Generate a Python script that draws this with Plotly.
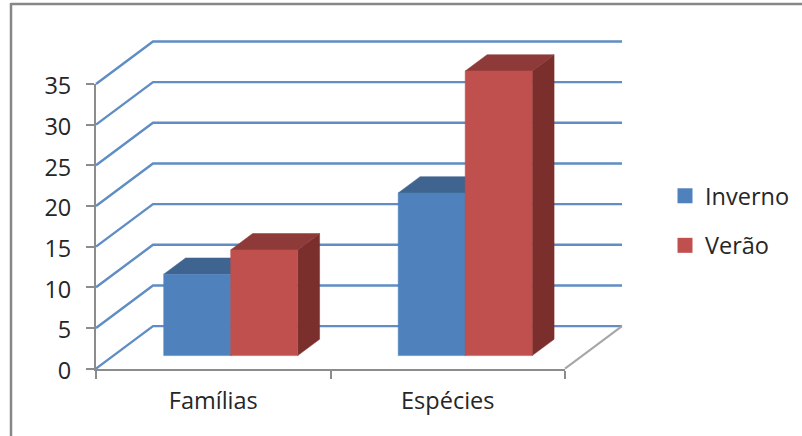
import plotly.graph_objects as go

# Chart data
categories = ["Famílias", "Espécies"]
series_names = ["Inverno", "Verão"]
inverno = [10, 20]
verao = [13, 35]
y_ticks = [0, 5, 10, 15, 20, 25, 30, 35]

W, H = 802, 436
LEFT, RIGHT, TOP, BOTTOM = 96, 565, 84, 368.6
UX = (RIGHT - LEFT) / 2          # pixels per category
UY = (BOTTOM - TOP) / 35         # pixels per value unit

# Oblique projection: depth 0 is the front plane, depth 1 the back wall
SHIFT_X = 57 / UX
SHIFT_Y = 42.5 / UY


def project(cat, depth, value):
    return cat + depth * SHIFT_X, value + depth * SHIFT_Y


def poly(points, color):
    xs, ys = zip(*[project(*p) for p in points + points[:1]])
    return go.Scatter(x=xs, y=ys, xaxis="x2", yaxis="y2", mode="lines", fill="toself",
                      fillcolor=color, line=dict(color=color, width=0.5),
                      showlegend=False, hoverinfo="skip")


def path(points, color, width=2.4):
    xs, ys = zip(*[project(*p) for p in points])
    return go.Scatter(x=xs, y=ys, xaxis="x2", yaxis="y2", mode="lines",
                      line=dict(color=color, width=width),
                      showlegend=False, hoverinfo="skip")


BAR_W = 1 / 3.5                  # gap width of 150 %
BAR_START = (1 - 2 * BAR_W) / 2
D0, D1 = 0.306, 0.69

styles = [
    dict(front="#4F81BD", top="#3E648F", side="#335273"),
    dict(front="#C0504D", top="#8E3A38", side="#7B2F2D"),
]

fig = go.Figure()

# Legend swatches live on the subplot that carries the value and category axes
for name, st in zip(series_names, styles):
    fig.add_trace(go.Scatter(x=[None], y=[None], mode="markers", name=name, legendgroup=name,
                             marker=dict(symbol="square", size=15, color=st["front"])))

# Back wall gridlines, running from the value axis over the side wall
for v in y_ticks:
    fig.add_trace(path([(0, 0, v), (0, 1, v), (2, 1, v)], "#5F8DC4"))

# Floor edge on the right
fig.add_trace(path([(2, 1, 0), (2, 0, 0)], "#A6A6A6", width=2))

# Bars as box faces, drawn back to front within each category
for c in range(len(categories)):
    for s, values in enumerate([inverno, verao]):
        v = values[c]
        x0 = c + BAR_START + s * BAR_W
        x1 = x0 + BAR_W
        st = styles[s]
        fig.add_trace(poly([(x1, D0, 0), (x1, D1, 0), (x1, D1, v), (x1, D0, v)], st["side"]))
        fig.add_trace(poly([(x0, D0, v), (x0, D1, v), (x1, D1, v), (x1, D0, v)], st["top"]))
        fig.add_trace(poly([(x0, D0, 0), (x1, D0, 0), (x1, D0, v), (x0, D0, v)], st["front"]))

font = dict(family="Open Sans", size=23.5, color="#262626")
AXIS_GREY = "#8C8C8C"
fig.update_layout(
    width=W, height=H,
    margin=dict(l=0, r=0, t=0, b=0, autoexpand=False),
    paper_bgcolor="#FFFFFF", plot_bgcolor="rgba(0,0,0,0)",
    font=font,
    showlegend=True,
    legend=dict(x=665 / W, y=1 - 174 / H, xanchor="left", yanchor="top",
                bgcolor="rgba(0,0,0,0)", tracegroupgap=16, itemwidth=30, font=font),
    xaxis=dict(domain=[LEFT / W, RIGHT / W], range=[0, 2],
               tickvals=[0.5, 1.5], ticktext=categories, ticks="",
               showgrid=False, zeroline=False, showline=True, linecolor=AXIS_GREY,
               linewidth=2, ticklabelstandoff=10,
               minor=dict(tickvals=[0, 1, 2], ticks="outside", ticklen=8,
                          tickcolor=AXIS_GREY, tickwidth=2, showgrid=False)),
    yaxis=dict(domain=[1 - BOTTOM / H, 1 - TOP / H], range=[0, 35], tickvals=y_ticks,
               ticks="outside", ticklen=8, tickcolor=AXIS_GREY, tickwidth=2,
               showgrid=False, zeroline=False, showline=True, linecolor=AXIS_GREY,
               linewidth=2, ticklabelstandoff=10, ticklabelshift=2),
    # Full-page overlay so the projected walls and bars can extend past the axes
    xaxis2=dict(domain=[0, 1], range=[-LEFT / UX, (W - LEFT) / UX], visible=False,
                anchor="y2", fixedrange=True),
    yaxis2=dict(domain=[0, 1], range=[(BOTTOM - H) / UY, BOTTOM / UY], visible=False,
                anchor="x2", fixedrange=True),
    shapes=[
        dict(type="line", xref="paper", yref="paper", x0=11 / W, x1=1, y0=1 - 4 / H, y1=1 - 4 / H,
             line=dict(color="#878787", width=2.5)),
        dict(type="line", xref="paper", yref="paper", x0=11 / W, x1=11 / W, y0=0, y1=1 - 3 / H,
             line=dict(color="#878787", width=2.5)),
    ],
)

fig.write_html("out.html", config=dict(displayModeBar=False))
